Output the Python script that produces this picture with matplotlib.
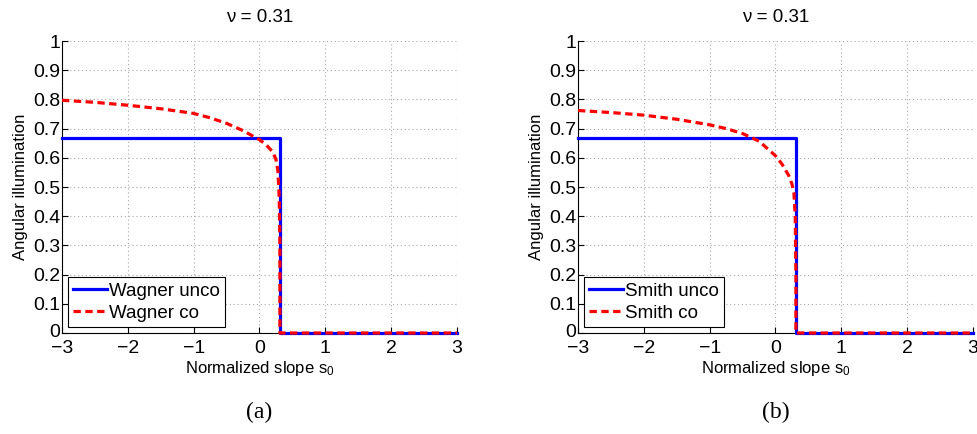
import matplotlib
matplotlib.use("Agg")
import matplotlib.pyplot as plt
import matplotlib.transforms as mtransforms

plt.rcParams['font.family'] = ['Liberation Sans', 'DejaVu Sans']
plt.rcParams['mathtext.fontset'] = 'custom'
plt.rcParams['mathtext.rm'] = 'Liberation Sans'
plt.rcParams['mathtext.it'] = 'Liberation Sans'

nu = 0.31
title_text = "\u03bd = 0.31"
xticks = [-3, -2, -1, 0, 1, 2, 3]
yticks = [0, 0.1, 0.2, 0.3, 0.4, 0.5, 0.6, 0.7, 0.8, 0.9, 1]
ytick_labels = ['0', '0.1', '0.2', '0.3', '0.4', '0.5', '0.6', '0.7', '0.8', '0.9', '1']

# uncorrelated (step) curve
unco_x = [-3, 0.31, 0.31, 3]
unco_y = [0.667, 0.667, 0.0, 0.0]

# correlated curves
co_x = [-3, -2.5, -2, -1.5, -1, -0.75, -0.5, -0.25, 0, 0.1, 0.2, 0.25, 0.28, 0.3, 0.31, 0.31, 3]
wagner_co_y = [0.797, 0.790, 0.780, 0.768, 0.752, 0.737, 0.718, 0.693, 0.662, 0.645, 0.620,
               0.595, 0.555, 0.46, 0.30, 0.0, 0.0]
smith_co_y = [0.762, 0.755, 0.746, 0.732, 0.713, 0.700, 0.683, 0.657, 0.607, 0.578, 0.540,
              0.510, 0.480, 0.40, 0.20, 0.0, 0.0]

panels = [
    ("Wagner unco", "Wagner co", wagner_co_y, "(a)"),
    ("Smith unco", "Smith co", smith_co_y, "(b)"),
]

W, H = 978, 434
fig = plt.figure(figsize=(W / 100, H / 100), dpi=100)

ax_lefts = [62, 578]
ax_w = 395
ax_top, ax_bot = 41, 333

for (lab_u, lab_c, co_y, tag), left in zip(panels, ax_lefts):
    ax = fig.add_axes([left / W, (H - ax_bot) / H, ax_w / W, (ax_bot - ax_top) / H])
    ax.plot(unco_x, unco_y, color='#0000ff', lw=2.3, label=lab_u, clip_on=False, zorder=3)
    ax.plot(co_x, co_y, color='#ff0000', lw=2.3, ls=(0, (2.3, 1.4)), label=lab_c,
            clip_on=False, zorder=4)
    ax.set_xlim(-3, 3)
    ax.set_ylim(0, 1)
    ax.set_xticks(xticks)
    ax.set_yticks(yticks)
    ax.set_yticklabels(ytick_labels)
    ax.tick_params(direction='in', length=4, width=0.8, labelsize=14,
                   top=False, right=False)
    ax.tick_params(axis='x', pad=5)
    ax.tick_params(axis='y', pad=1)
    # nudge the y "0" label up slightly so it does not collide with the x "-3"
    lab0 = ax.get_yticklabels()[0]
    lab0.set_transform(lab0.get_transform() +
                       mtransforms.ScaledTranslation(0, 2 / 72, fig.dpi_scale_trans))
    ax.grid(True, color='#a8a8a8', ls=(0, (1, 2.5)), lw=0.8)
    ax.set_axisbelow(True)
    for s in ['top', 'right']:
        ax.spines[s].set_visible(False)
    for s in ['left', 'bottom']:
        ax.spines[s].set_linewidth(0.8)
    ax.set_title(title_text, fontsize=13.5, pad=14)
    ax.set_xlabel(r'Normalized slope s$_\mathregular{0}$', fontsize=12, labelpad=1.5)
    ax.set_ylabel('Angular illumination', fontsize=12, labelpad=4)
    leg = ax.legend(loc='lower left', fontsize=13.5, frameon=True, fancybox=False,
                    edgecolor='black', framealpha=1, borderaxespad=0.3,
                    handlelength=1.8, handletextpad=0.1, borderpad=0.3,
                    labelspacing=0.25)
    leg.get_frame().set_linewidth(0.8)
    fig.text((left + ax_w / 2) / W, 1 - 412 / H, tag, ha='center', va='center',
             fontsize=17, family='Liberation Serif')

fig.savefig('out.png', dpi=100)
